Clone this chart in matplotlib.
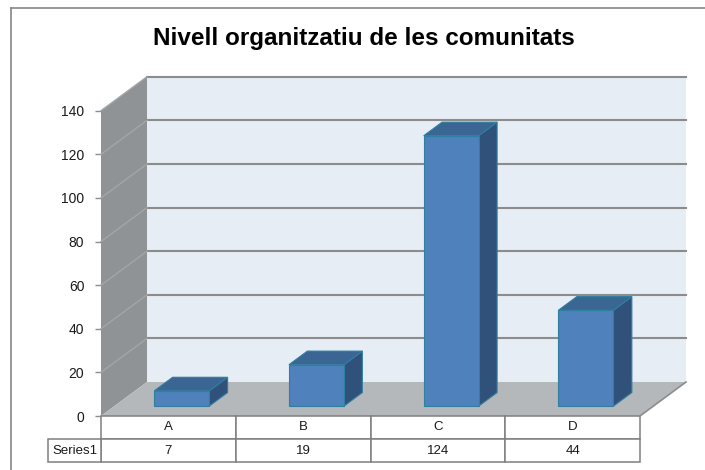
import matplotlib
matplotlib.use('Agg')
import matplotlib.pyplot as plt
from matplotlib.patches import Polygon, Rectangle
from matplotlib.lines import Line2D

categories = ['A', 'B', 'C', 'D']
values = [7, 19, 124, 44]
series_name = 'Series1'
title = 'Nivell organitzatiu de les comunitats'
yticks = [0, 20, 40, 60, 80, 100, 120, 140]

W, H = 705, 470
fig = plt.figure(figsize=(W / 100, H / 100), dpi=100)
fig.patch.set_facecolor('white')

# front plane of the 3d box, in pixels
x0, x1 = 101, 640
ybot, ytop = 416, 110.7
ax = fig.add_axes([x0 / W, 1 - ybot / H, (x1 - x0) / W, (ybot - ytop) / H])
ax.set_xlim(0, 4)
ax.set_ylim(0, 140)
ax.patch.set_visible(False)
for s in ax.spines.values():
    s.set_visible(False)

# oblique depth offset (full depth) in data units
DX = 46 / ((x1 - x0) / 4)
DY = 34 / ((ybot - ytop) / 140)


def P(x, v, f):
    return (x + f * DX, v + f * DY)


wall_c = '#E6EDF5'
side_c = '#909396'
floor_c = '#B4B8BB'
grid_c = '#8C8C8C'

# back wall, side wall, floor
ax.add_patch(Polygon([P(0, 0, 1), P(4, 0, 1), P(4, 140, 1), P(0, 140, 1)],
                     closed=True, fc=wall_c, ec='none', clip_on=False, zorder=1))
ax.add_patch(Polygon([P(0, 0, 0), P(0, 0, 1), P(0, 140, 1), P(0, 140, 0)],
                     closed=True, fc=side_c, ec='none', clip_on=False, zorder=1))
ax.add_patch(Polygon([P(0, 0, 0), P(4, 0, 0), P(4, 0, 1), P(0, 0, 1)],
                     closed=True, fc=floor_c, ec='none', clip_on=False, zorder=1))

for t in yticks[1:]:
    a, b = P(0, t, 1), P(4, t, 1)
    ax.plot([a[0], b[0]], [a[1], b[1]], color=grid_c, lw=1.5, clip_on=False, zorder=2)
    c = P(0, t, 0)
    ax.plot([c[0], a[0]], [c[1], a[1]], color='#A3A6A9', lw=1.0, clip_on=False, zorder=2)
# floor right edge
a, b = P(4, 0, 0), P(4, 0, 1)
ax.plot([a[0], b[0]], [a[1], b[1]], color='#8C8C8C', lw=1.2, clip_on=False, zorder=2)

# bars
f0, f1 = 0.29, 0.69
bw = 0.408
front_c = '#4F81BD'
top_c = '#3B6593'
sidebar_c = '#30527A'
edge_c = '#2E7FA0'
for i, v in enumerate(values):
    xl = i + 0.5 - bw / 2
    xr = xl + bw
    side = [P(xr, 0, f0), P(xr, 0, f1), P(xr, v, f1), P(xr, v, f0)]
    top = [P(xl, v, f0), P(xr, v, f0), P(xr, v, f1), P(xl, v, f1)]
    front = [P(xl, 0, f0), P(xr, 0, f0), P(xr, v, f0), P(xl, v, f0)]
    for poly, col in [(side, sidebar_c), (top, top_c), (front, front_c)]:
        ax.add_patch(Polygon(poly, closed=True, fc=col, ec=edge_c, lw=0.8,
                             clip_on=False, zorder=3))

ax.set_xticks([])
ax.set_yticks(yticks)
ax.tick_params(axis='y', length=4, width=1, color='#8C8C8C', pad=8,
               labelsize=10, labelcolor='#1A1A1A')
for lab in ax.get_yticklabels():
    lab.set_fontfamily('Liberation Sans')

# data table under the floor (axes coords)
row_h = 23 / (ybot - ytop)
lab_w = 53 / (x1 - x0)
tab_kw = dict(transform=ax.transAxes, clip_on=False, fc='white', ec='#7F7F7F', lw=1.1)
txt_kw = dict(transform=ax.transAxes, ha='center', va='center', fontsize=9.5,
              family='Liberation Sans', color='#1A1A1A')
for i, (cat, v) in enumerate(zip(categories, values)):
    ax.add_patch(Rectangle((i * 0.25, -row_h), 0.25, row_h, **tab_kw))
    ax.add_patch(Rectangle((i * 0.25, -2 * row_h), 0.25, row_h, **tab_kw))
    ax.text(i * 0.25 + 0.125, -0.5 * row_h, cat, **txt_kw)
    ax.text(i * 0.25 + 0.125, -1.5 * row_h, str(v), **txt_kw)
ax.add_patch(Rectangle((-lab_w, -2 * row_h), lab_w, row_h, **tab_kw))
ax.text(-lab_w / 2, -1.5 * row_h, series_name, **txt_kw)

fig.text(363.5 / W, 1 - 45 / H, title, ha='center', va='baseline',
         fontsize=17.5, fontweight='bold', family='Liberation Sans')

# outer chart frame
fig.add_artist(Line2D([10.5 / W, 10.5 / W], [0, 1 - 8 / H], color='#868686', lw=1.2,
                      transform=fig.transFigure))
fig.add_artist(Line2D([10.5 / W, 1], [1 - 8 / H, 1 - 8 / H], color='#868686', lw=1.2,
                      transform=fig.transFigure))

fig.savefig('out.png', dpi=100)
